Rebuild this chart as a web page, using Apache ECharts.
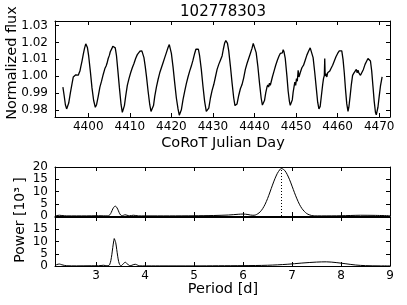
<!DOCTYPE html>
<html>
<head>
<meta charset="utf-8">
<script src="https://cdn.jsdelivr.net/npm/echarts@6/dist/echarts.min.js"></script>
<style>html,body{margin:0;padding:0;background:#fff}#c{width:407px;height:305px}</style>
</head>
<body>
<div id="c"></div>
<script>
// ---- data ----
var titleText = "102778303";
var lcXLabel = "CoRoT Julian Day";
var lcYLabel = "Normalized flux";
var pgXLabel = "Period [d]";
var pgYLabel = "Power [10\u00b3 ]";
var lcXTicks = [4400, 4410, 4420, 4430, 4440, 4450, 4460, 4470];
var lcYTicks = [0.98, 0.99, 1.00, 1.01, 1.02, 1.03];
var pgXTicks = [3, 4, 5, 6, 7, 8, 9];
var pgYTicks = [0, 5, 10, 15, 20];
var pgYLabels2 = [0, 5, 10, 15];
var bestPeriod = 6.78;
var bestPower = 19.4;

// light curve [day, normalized flux]
var lightCurve = [
[4393.9,0.9935],[4394.2,0.9885],[4394.5,0.983],[4394.8,0.9805],[4395.0,0.9808],[4395.3,0.984],[4395.7,0.990],[4396.1,0.9955],[4396.4,0.9995],[4396.6,1.0005],[4396.8,0.9998],[4397.0,1.0008],[4397.2,1.0003],[4397.4,1.0012],[4397.6,1.0006],[4397.8,1.0018],[4398.0,1.003],[4398.2,1.0055],[4398.5,1.009],[4398.8,1.013],[4399.1,1.0165],[4399.4,1.0192],[4399.6,1.0195],[4399.8,1.017],[4400.1,1.012],[4400.5,1.003],[4400.9,0.993],[4401.3,0.9855],[4401.7,0.9815],[4402.0,0.983],[4402.4,0.988],[4402.8,0.9935],[4403.2,0.997],[4403.6,1.001],[4404.0,1.0045],[4404.3,1.006],[4404.5,1.0075],[4404.8,1.0105],[4405.1,1.0125],[4405.3,1.0145],[4405.5,1.0138],[4405.7,1.0165],[4405.9,1.0178],[4406.1,1.0187],[4406.3,1.0175],[4406.5,1.0168],[4406.8,1.012],[4407.1,1.004],[4407.5,0.993],[4407.9,0.983],[4408.2,0.9785],[4408.4,0.978],[4408.7,0.9825],[4409.0,0.988],[4409.4,0.9945],[4409.8,0.9985],[4410.2,1.002],[4410.6,1.005],[4411.0,1.0075],[4411.4,1.0105],[4411.8,1.0128],[4412.1,1.0138],[4412.4,1.0148],[4412.6,1.0142],[4412.9,1.0150],[4413.1,1.0140],[4413.4,1.011],[4413.7,1.006],[4414.0,1.0],[4414.4,0.991],[4414.8,0.983],[4415.1,0.979],[4415.4,0.9785],[4415.7,0.9825],[4416.0,0.988],[4416.4,0.9935],[4416.8,0.998],[4417.2,1.002],[4417.6,1.005],[4418.0,1.008],[4418.4,1.011],[4418.8,1.014],[4419.2,1.017],[4419.5,1.0188],[4419.7,1.018],[4420.0,1.0135],[4420.4,1.0055],[4420.8,0.996],[4421.2,0.987],[4421.6,0.9805],[4421.9,0.9768],[4422.1,0.9765],[4422.4,0.980],[4422.8,0.986],[4423.2,0.991],[4423.6,0.9955],[4424.0,0.9995],[4424.4,1.003],[4424.8,1.006],[4425.2,1.0095],[4425.6,1.0135],[4425.9,1.016],[4426.1,1.0168],[4426.3,1.0162],[4426.5,1.016],[4426.8,1.012],[4427.2,1.004],[4427.6,0.994],[4428.0,0.985],[4428.4,0.979],[4428.7,0.9782],[4429.0,0.981],[4429.4,0.987],[4429.8,0.9915],[4430.2,0.995],[4430.6,0.9995],[4431.0,1.004],[4431.4,1.007],[4431.8,1.0095],[4432.2,1.012],[4432.5,1.016],[4432.8,1.0195],[4433.1,1.0212],[4433.3,1.0215],[4433.5,1.0195],[4433.8,1.015],[4434.2,1.006],[4434.6,0.996],[4435.0,0.987],[4435.3,0.9825],[4435.5,0.9815],[4435.8,0.9835],[4436.2,0.9885],[4436.6,0.9925],[4437.0,0.995],[4437.4,0.999],[4437.8,1.004],[4438.2,1.0075],[4438.6,1.0105],[4439.0,1.0135],[4439.4,1.0165],[4439.7,1.0195],[4439.9,1.0205],[4440.1,1.0185],[4440.4,1.014],[4440.8,1.006],[4441.2,0.996],[4441.6,0.987],[4441.9,0.9828],[4442.1,0.9825],[4442.4,0.9855],[4442.7,0.990],[4443.0,0.9935],[4443.2,0.9948],[4443.4,0.9935],[4443.6,0.9958],[4443.8,0.9945],[4444.0,0.9965],[4444.3,0.9995],[4444.7,1.003],[4445.1,1.0065],[4445.5,1.0095],[4445.9,1.012],[4446.2,1.0135],[4446.5,1.0145],[4446.7,1.0138],[4446.9,1.0157],[4447.1,1.0145],[4447.4,1.0105],[4447.8,1.0],[4448.1,0.991],[4448.4,0.985],[4448.6,0.9826],[4448.8,0.9835],[4448.9,0.9822],[4449.1,0.986],[4449.3,0.9905],[4449.5,0.9935],[4449.7,0.9965],[4449.9,0.9945],[4450.1,0.9985],[4450.3,0.997],[4450.5,1.0035],[4450.7,0.9995],[4451.0,1.002],[4451.4,1.005],[4451.8,1.0065],[4452.2,1.0095],[4452.6,1.0125],[4453.0,1.0148],[4453.4,1.0168],[4453.6,1.0178],[4453.8,1.016],[4454.1,1.011],[4454.5,1.002],[4454.9,0.992],[4455.2,0.9845],[4455.5,0.9805],[4455.8,0.982],[4456.1,0.9885],[4456.4,0.995],[4456.6,0.9985],[4456.8,1.0005],[4456.9,1.0105],[4457.0,1.0],[4457.2,1.0015],[4457.4,0.9995],[4457.6,1.002],[4457.8,1.001],[4458.1,1.003],[4458.4,1.0045],[4458.8,1.0065],[4459.2,1.009],[4459.6,1.0115],[4460.0,1.0135],[4460.4,1.015],[4460.8,1.0157],[4461.0,1.015],[4461.3,1.01],[4461.6,1.002],[4461.9,0.992],[4462.2,0.9835],[4462.5,0.979],[4462.7,0.9815],[4463.0,0.988],[4463.3,0.995],[4463.6,1.0005],[4463.9,1.0018],[4464.1,1.0025],[4464.3,1.0015],[4464.5,1.004],[4464.7,1.002],[4464.9,1.0035],[4465.1,1.002],[4465.3,1.0025],[4465.5,1.0005],[4465.7,1.0],[4465.9,1.0015],[4466.2,1.004],[4466.6,1.007],[4467.0,1.009],[4467.3,1.0105],[4467.6,1.0108],[4467.9,1.009],[4468.2,1.003],[4468.5,0.994],[4468.8,0.985],[4469.1,0.9785],[4469.3,0.9770],[4469.5,0.9775],[4469.7,0.9815],[4470.0,0.988],[4470.3,0.994],[4470.7,0.9995]
];

// periodogram of light curve [period d, power 1e3]
var periodogram1 = [
[2.16,0.1],[2.2,0.2],[2.25,0.3],[2.3,0.2],[2.4,0.05],[2.6,0.05],[2.8,0.05],[3.0,0.1],[3.1,0.1],[3.2,0.05],
[3.25,0.1],[3.28,0.5],[3.31,1.5],[3.34,2.9],[3.37,3.8],[3.39,4.0],[3.41,3.8],[3.44,2.8],[3.47,1.4],[3.50,0.4],[3.53,0.1],
[3.56,0.3],[3.59,0.5],[3.63,0.3],[3.68,0.1],[3.72,0.2],[3.76,0.3],[3.81,0.2],[3.86,0.05],[4.0,0.05],[4.5,0.05],[5.0,0.1],
[5.4,0.2],[5.7,0.4],[5.9,0.7],[6.0,0.8],[6.1,0.6],[6.15,0.4],[6.2,0.3],[6.25,0.4],[6.30,0.9],[6.35,1.7],[6.40,3.0],[6.45,4.8],
[6.50,7.1],[6.55,9.8],[6.60,12.6],[6.65,15.2],[6.70,17.4],[6.75,18.9],[6.78,19.4],[6.80,19.3],[6.85,18.6],[6.90,17.0],
[6.95,14.8],[7.00,12.2],[7.05,9.5],[7.10,7.0],[7.15,4.8],[7.20,3.1],[7.25,1.9],[7.30,1.0],[7.35,0.5],[7.40,0.2],[7.45,0.05],
[7.6,0.05],[8.0,0.1],[8.4,0.3],[8.7,0.25],[9.0,0.1]
];
// second periodogram [period d, power 1e3]
var periodogram2 = [
[2.16,0.2],[2.2,0.6],[2.25,0.8],[2.3,0.5],[2.4,0.1],[2.6,0.05],[2.9,0.1],[3.05,0.1],[3.15,0.3],[3.22,0.1],
[3.26,0.2],[3.28,0.8],[3.30,2.2],[3.32,4.6],[3.34,7.6],[3.36,10.3],[3.37,11.2],[3.38,11.0],[3.40,9.5],[3.42,6.8],
[3.44,4.0],[3.46,1.8],[3.48,0.6],[3.50,0.1],[3.52,0.2],[3.55,0.8],[3.58,1.4],[3.60,1.5],[3.63,1.0],[3.66,0.4],
[3.69,0.1],[3.73,0.3],[3.77,0.6],[3.80,0.7],[3.84,0.4],[3.88,0.1],[3.95,0.05],[4.3,0.05],[5.0,0.05],[5.5,0.1],
[6.0,0.15],[6.5,0.3],[6.9,0.7],[7.2,1.2],[7.5,1.6],[7.7,1.7],[7.9,1.4],[8.1,0.9],[8.3,0.4],[8.5,0.15],[8.8,0.05],[9.0,0.05]
];

// ---- chart ----
var FONT = 'DejaVu Sans';
var BLACK = '#000';
function axisBase(extra) {
  var a = {
    type: 'value',
    splitLine: {show: false},
    axisLine: {show: true, onZero: false, lineStyle: {color: BLACK, width: 1}},
    axisTick: {show: true, inside: true, length: 4, lineStyle: {color: BLACK, width: 1}},
    axisLabel: {show: false, color: BLACK, fontFamily: FONT, fontSize: 12}
  };
  for (var k in extra) a[k] = extra[k];
  return a;
}
function withTicks(a, ticks, labels, margin, fmt) {
  a.axisTick.customValues = ticks;
  if (labels) {
    a.axisLabel.show = true;
    a.axisLabel.customValues = labels;
    a.axisLabel.margin = margin;
    a.axisLabel.formatter = fmt || function (v) { return String(v); };
  }
  return a;
}
var lcXRange = [4392, 4472.6];
var lcYRange = [0.9757, 1.0328];
var pgXRange = [2.16, 9];
var pgYRange = [0, 20];

var xAxes = [
  withTicks(axisBase({gridIndex: 0, position: 'bottom', min: lcXRange[0], max: lcXRange[1]}), lcXTicks, lcXTicks, 4),
  withTicks(axisBase({gridIndex: 0, position: 'top', min: lcXRange[0], max: lcXRange[1]}), lcXTicks),
  withTicks(axisBase({gridIndex: 1, position: 'bottom', min: pgXRange[0], max: pgXRange[1]}), pgXTicks),
  withTicks(axisBase({gridIndex: 1, position: 'top', min: pgXRange[0], max: pgXRange[1]}), pgXTicks),
  withTicks(axisBase({gridIndex: 2, position: 'bottom', min: pgXRange[0], max: pgXRange[1]}), pgXTicks, pgXTicks, 4),
  withTicks(axisBase({gridIndex: 2, position: 'top', min: pgXRange[0], max: pgXRange[1]}), pgXTicks)
];
var yAxes = [
  withTicks(axisBase({gridIndex: 0, position: 'left', min: lcYRange[0], max: lcYRange[1]}), lcYTicks, lcYTicks, 7, function (v) { return v.toFixed(2); }),
  withTicks(axisBase({gridIndex: 0, position: 'right', min: lcYRange[0], max: lcYRange[1]}), lcYTicks),
  withTicks(axisBase({gridIndex: 1, position: 'left', min: pgYRange[0], max: pgYRange[1]}), pgYTicks, pgYTicks, 7),
  withTicks(axisBase({gridIndex: 1, position: 'right', min: pgYRange[0], max: pgYRange[1]}), pgYTicks),
  withTicks(axisBase({gridIndex: 2, position: 'left', min: pgYRange[0], max: pgYRange[1]}), pgYTicks, pgYLabels2, 7),
  withTicks(axisBase({gridIndex: 2, position: 'right', min: pgYRange[0], max: pgYRange[1]}), pgYTicks)
];

var textStyle = function (t, size) {
  return {text: t, fill: BLACK, font: size + 'px "' + FONT + '"', textAlign: 'center', textVerticalAlign: 'middle'};
};

var chart = echarts.init(document.getElementById('c'), null, {renderer: 'canvas'});
chart.setOption({
  animation: false,
  backgroundColor: '#fff',
  grid: [
    {left: 55, right: 17, top: 21, height: 96, outerBoundsMode: 'none', containLabel: false},
    {left: 55, right: 17, top: 167, height: 49, outerBoundsMode: 'none', containLabel: false},
    {left: 55, right: 17, top: 217, height: 49, outerBoundsMode: 'none', containLabel: false}
  ],
  xAxis: xAxes,
  yAxis: yAxes,
  graphic: [
    {type: 'text', x: 223, y: 12, style: textStyle(titleText, 15)},
    {type: 'text', x: 223, y: 143.5, style: textStyle(lcXLabel, 14.5)},
    {type: 'text', x: 12, y: 63, rotation: Math.PI / 2, style: textStyle(lcYLabel, 14.5)},
    {type: 'text', x: 223, y: 289, style: textStyle(pgXLabel, 14.5)},
    {type: 'text', x: 20, y: 220, rotation: Math.PI / 2, style: textStyle(pgYLabel, 14)}
  ],
  series: [
    {type: 'line', xAxisIndex: 0, yAxisIndex: 0, data: lightCurve, showSymbol: false, symbol: 'none',
     lineStyle: {color: BLACK, width: 1.3}},
    {type: 'line', xAxisIndex: 2, yAxisIndex: 2, data: periodogram1, showSymbol: false, symbol: 'none',
     smooth: 0.3, lineStyle: {color: BLACK, width: 1},
     markLine: {silent: true, symbol: 'none', label: {show: false},
       lineStyle: {color: BLACK, width: 1, type: [1, 2]},
       data: [[{coord: [bestPeriod, 0]}, {coord: [bestPeriod, bestPower]}]]}},
    {type: 'line', xAxisIndex: 4, yAxisIndex: 4, data: periodogram2, showSymbol: false, symbol: 'none',
     smooth: 0.3, lineStyle: {color: BLACK, width: 1}}
  ]
});
</script>
</body>
</html>
